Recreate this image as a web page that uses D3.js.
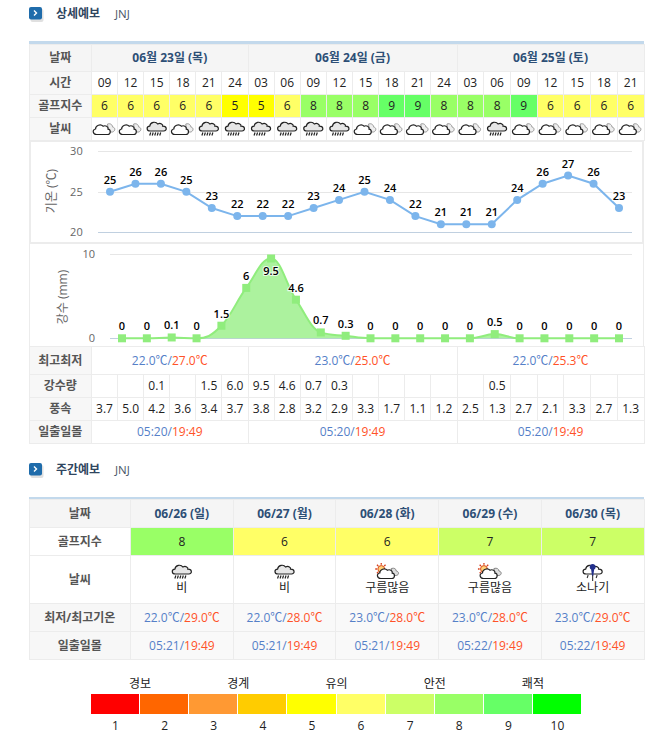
<!DOCTYPE html>
<html lang="ko">
<head>
<meta charset="utf-8">
<title>JNJ 날씨</title>
<script src="https://cdn.jsdelivr.net/npm/d3@7"></script>
<style>
  html, body { margin: 0; padding: 0; background: #fff; overflow: hidden; }
  svg { display: block; font-family: "Open Sans", "Noto Sans CJK KR", sans-serif; }
  .grid { shape-rendering: crispEdges; }
  .axis .domain { display: none; }
  .axis text { font-size: 11px; fill: #666; font-family: "Open Sans", sans-serif; }
  .lab { font-size: 12px; font-weight: 700; fill: #555; }
  .head { font-size: 12px; font-weight: 700; fill: #2d4f76; }
  .val { font-size: 12px; fill: #222; }
  .dl { font-size: 11px; font-weight: 600; fill: #000; stroke: #fff; stroke-width: 2.2px; stroke-opacity: .75; paint-order: stroke; }
</style>
</head>
<body>
<div id="chart"></div>
<script>
/* ── 상세예보 (3 hourly) ───────────────────────── */
const dayLabels  = ['06월 23일 (목)', '06월 24일 (금)', '06월 25일 (토)'];
const dayCols    = [6, 8, 7];
const times      = ['09','12','15','18','21','24','03','06','09','12','15','18','21','24','03','06','09','12','15','18','21'];
const golfIndex  = [6,6,6,6,6,5,5,6,8,8,8,9,9,8,8,8,9,6,6,6,6];
const weather    = ['c','c','r','c','r','r','r','r','r','r','c','c','c','c','c','r','c','c','c','c','c'];
const temps      = [25,26,26,25,23,22,22,22,23,24,25,24,22,21,21,21,24,26,27,26,23];
const rain       = [0,0,0.1,0,1.5,6,9.5,4.6,0.7,0.3,0,0,0,0,0,0.5,0,0,0,0,0];
const wind       = [3.7,5.0,4.2,3.6,3.4,3.7,3.8,2.8,3.2,2.9,3.3,1.7,1.1,1.2,2.5,1.3,2.7,2.1,3.3,2.7,1.3];
const dayMin     = ['22.0','23.0','22.0'];
const dayMax     = ['27.0','25.0','25.3'];
const daySunrise = ['05:20','05:20','05:20'];
const daySunset  = ['19:49','19:49','19:49'];

/* ── 주간예보 ──────────────────────────────────── */
const weekDays    = ['06/26 (일)','06/27 (월)','06/28 (화)','06/29 (수)','06/30 (목)'];
const weekGolf    = [8,6,6,7,7];
const weekWxCode  = ['r','r','s','s','t'];
const weekWxText  = ['비','비','구름많음','구름많음','소나기'];
const weekMin     = ['22.0','22.0','23.0','23.0','23.0'];
const weekMax     = ['29.0','28.0','28.0','28.0','29.0'];
const weekSunrise = ['05:21','05:21','05:21','05:22','05:22'];
const weekSunset  = ['19:49','19:49','19:49','19:49','19:49'];

/* ── 범례 ──────────────────────────────────────── */
const legendLevels = [1,2,3,4,5,6,7,8,9,10];
const legendColors = ['#ff0000','#ff6600','#ff9933','#ffcc00','#ffff00','#ffff66','#ccff66','#99ff66','#66ff66','#00ff00'];
const legendGroups = ['경보','경계','유의','안전','쾌적'];

const W = 671, H = 738;
const LINE = '#ececec', TOPLINE = '#c3d9ec', BLUE = '#5580c8', RED = '#ff5228';
const golfColor = d3.scaleOrdinal().domain(legendLevels).range(legendColors);

const svg = d3.select('#chart').append('svg').attr('width', W).attr('height', H);
const defs = svg.append('defs');

// ── weather glyphs ───────────────────────────────
const CLOUD = 'M-6.5 5.5 C-10.5 5.5 -11 0.5 -7.5 0 C-7.5 -3.5 -2.5 -5.5 0 -2.8 C2.5 -4 5.5 -2.5 5 0.2 C8 0.5 8 5.5 4.5 5.5 Z';
const RAINCLOUD = 'M-6.5 2 C-10.5 2 -10.5 -2.5 -7 -2.8 C-6.5 -7 -1 -8 1 -5 C4 -6.5 6.5 -4.5 6 -2.8 C10.5 -3 10.5 2 7 2 Z';

const symC = defs.append('g').attr('id', 'wx-c');
symC.append('path').attr('d', 'M3 -5 C6 -6 8 -4 8 -2 C11 -1.5 11 2 8 3 L4 3 Z')
  .attr('fill', '#eee').attr('stroke', '#999').attr('stroke-width', 1);
symC.append('path').attr('d', CLOUD).attr('transform', 'translate(-1.5,0)')
  .attr('fill', '#fff').attr('stroke', '#222').attr('stroke-width', 1.2);

const symR = defs.append('g').attr('id', 'wx-r');
symR.append('path').attr('d', RAINCLOUD).attr('fill', '#e6e6e6').attr('stroke', '#222').attr('stroke-width', 1.2);
symR.append('path').attr('d', 'M-6 3.5 L-7 6.5 M-3.5 3.5 L-4.5 6.5 M-1 3.5 L-2 6.5 M1.5 3.5 L0.5 6.5 M4 3.5 L3 6.5')
  .attr('stroke', '#222').attr('stroke-width', 1.2).attr('fill', 'none');

const symS = defs.append('g').attr('id', 'wx-s');
symS.append('circle').attr('cx', -6).attr('cy', -3).attr('r', 3.4).attr('fill', '#ffd27a').attr('stroke', '#d84a1c').attr('stroke-width', 1);
symS.append('path').attr('d', 'M-6 -9 V-7.3 M-12 -3 H-10.3 M-10.3 -7.3 L-9 -6 M-1.7 -7.3 L-3 -6 M-10.3 1.3 L-9 0')
  .attr('stroke', '#d8401c').attr('stroke-width', 1.3).attr('fill', 'none');
symS.append('path').attr('d', 'M4 -3.5 C7 -4.5 9 -3 9 -1 C12 -0.5 12 3 9 3.5 L5 3.5 Z').attr('fill', '#ddd').attr('stroke', '#888');
symS.append('path').attr('d', CLOUD).attr('transform', 'translate(0,1)').attr('fill', '#fff').attr('stroke', '#222').attr('stroke-width', 1.2);

const symT = defs.append('g').attr('id', 'wx-t');
symT.append('path').attr('d', RAINCLOUD).attr('fill', '#fff').attr('stroke', '#222').attr('stroke-width', 1.2);
symT.append('path').attr('d', 'M-1.5 -4.5 A3 3 0 1 1 1.5 -4.5 L0.6 2 L-0.6 2 Z').attr('transform', 'translate(0,2)').attr('fill', '#22308c');
symT.append('path').attr('d', 'M0 3.5 V9 M-4.5 3 L-5.5 6 M4.5 3 L3.5 6').attr('stroke', '#333').attr('stroke-width', 1.1).attr('fill', 'none');

// ── table helpers ────────────────────────────────
const grid = svg.append('g').attr('class', 'grid');
const txt  = svg.append('g');
const crisp = v => Math.round(v - 0.5) + 0.5;

function cell(x0, x1, y0, y1, fill) {
  grid.append('rect')
    .attr('x', crisp(x0)).attr('y', crisp(y0))
    .attr('width', crisp(x1) - crisp(x0)).attr('height', crisp(y1) - crisp(y0))
    .attr('fill', fill).attr('stroke', LINE);
}
function label(x, y, s, cls) {
  return txt.append('text').attr('class', cls).attr('x', x).attr('y', y)
    .attr('dy', '.36em').attr('text-anchor', 'middle').text(s);
}
function pair(x, y, a, b, unit) {
  const t = label(x, y, null, 'val');
  t.append('tspan').style('fill', BLUE).text(`${a}${unit}/`);
  t.append('tspan').style('fill', RED).text(`${b}${unit}`);
}
function sectionTitle(y, s) {
  const g = svg.append('g');
  g.append('rect').attr('x', 30.5).attr('y', y - 5).attr('width', 13).attr('height', 13).attr('rx', 2)
    .attr('fill', '#ccc').attr('opacity', .6);
  g.append('rect').attr('x', 29).attr('y', y - 7).attr('width', 13).attr('height', 12.5).attr('rx', 2)
    .attr('fill', '#1f6cab');
  g.append('path').attr('d', `M34 ${y - 3.5} l2.5 2.5 l-2.5 2.5`).attr('fill', 'none')
    .attr('stroke', '#fff').attr('stroke-width', 1.4);
  g.append('text').attr('x', 56).attr('y', y).attr('dy', '.36em').attr('font-size', 12)
    .attr('font-weight', 700).attr('fill', '#2f4560').text(s);
  g.append('text').attr('x', 115).attr('y', y).attr('dy', '.36em').attr('font-size', 11.5)
    .attr('fill', '#4a5568').text('JNJ');
}

// ── 상세예보 table ───────────────────────────────
const LEFT = 29, RIGHT = 644, LABEL_R = 91.5;
const colX = d3.scaleLinear().domain([0, 6, 14, 21]).range([LABEL_R, 248, 457, RIGHT]);
const colC = i => (colX(i) + colX(i + 1)) / 2;
const dayEdges = d3.cumsum([0, ...dayCols]);

sectionTitle(14, '상세예보');
grid.append('rect').attr('x', LEFT).attr('y', 41).attr('width', RIGHT - LEFT).attr('height', 3).attr('fill', TOPLINE);

function rowLabel(y0, y1, s, x1 = LABEL_R, fill = '#f7f7f7') {
  cell(LEFT, x1, y0, y1, fill);
  label((LEFT + x1) / 2, (y0 + y1) / 2, s, 'lab');
}

// date row
rowLabel(44, 71.5, '날짜', LABEL_R, '#f5f5f5');
dayLabels.forEach((d, i) => {
  cell(colX(dayEdges[i]), colX(dayEdges[i + 1]), 44, 71.5, '#f5f5f5');
  label((colX(dayEdges[i]) + colX(dayEdges[i + 1])) / 2, 57.5, d, 'head');
});

// hourly rows
rowLabel(71.5, 94.5, '시간');
rowLabel(94.5, 117.5, '골프지수');
rowLabel(117.5, 140.5, '날씨');
times.forEach((t, i) => {
  cell(colX(i), colX(i + 1), 71.5, 94.5, '#fff');
  label(colC(i), 83, t, 'val');
  cell(colX(i), colX(i + 1), 94.5, 117.5, golfColor(golfIndex[i]));
  label(colC(i), 106, golfIndex[i], 'val');
  cell(colX(i), colX(i + 1), 117.5, 140.5, '#fff');
  svg.append('use').attr('href', `#wx-${weather[i]}`).attr('x', colC(i)).attr('y', 129);
});

// ── chart panels ─────────────────────────────────
grid.append('rect').attr('x', 29).attr('y', 140).attr('width', 615).attr('height', 207).attr('fill', LINE);
grid.append('rect').attr('x', 31).attr('y', 142).attr('width', 611).attr('height', 100).attr('fill', '#fff');
grid.append('rect').attr('x', 30).attr('y', 244).attr('width', 613).attr('height', 102).attr('fill', '#fff');

const plot = svg.append('g');
const idx = times.map((_, i) => i);
const GRID_R = 631.7;

// temperature
const tempX = d3.scalePoint().domain(idx).range([110, 619]);
const tempY = d3.scaleLinear().domain([20, 30]).range([232.3, 151.3]);
const TEMP_L = 97.7;
const tempAxis = plot.append('g').attr('class', 'axis').attr('transform', `translate(${TEMP_L},0)`)
  .call(d3.axisLeft(tempY).tickValues([20, 25, 30]).tickSize(-(GRID_R - TEMP_L)).tickPadding(15));
tempAxis.selectAll('.tick line').attr('x1', 0).attr('x2', GRID_R - TEMP_L)
  .attr('stroke', d => d === 20 ? '#c0d0e0' : '#e6e6e6').attr('class', 'grid');

plot.append('text').attr('transform', 'translate(52,191) rotate(-90)').attr('text-anchor', 'middle')
  .attr('dy', '.36em').attr('font-size', 12).attr('fill', '#666').text('기온 (℃)');

plot.append('path').datum(temps)
  .attr('d', d3.line().x((_, i) => tempX(i)).y(d => tempY(d)))
  .attr('fill', 'none').attr('stroke', '#7cb5ec').attr('stroke-width', 2);
plot.selectAll('.tdot').data(temps).join('circle').attr('class', 'tdot')
  .attr('cx', (_, i) => tempX(i)).attr('cy', d => tempY(d)).attr('r', 4).attr('fill', '#7cb5ec');
plot.selectAll('.tlab').data(temps).join('text').attr('class', 'dl tlab')
  .attr('x', (_, i) => tempX(i)).attr('y', d => tempY(d) - 12).attr('dy', '.36em')
  .attr('text-anchor', 'middle').text(d => d);

// rain
const rainX = d3.scalePoint().domain(idx).range([122, 619]);
const rainY = d3.scaleLinear().domain([0, 10]).range([338.3, 254.3]);
const RAIN_L = 110;
const rainAxis = plot.append('g').attr('class', 'axis').attr('transform', `translate(${RAIN_L},0)`)
  .call(d3.axisLeft(rainY).tickValues([0, 10]).tickSize(-(GRID_R - RAIN_L)).tickPadding(15));
rainAxis.selectAll('.tick line').attr('x1', 0).attr('x2', GRID_R - RAIN_L)
  .attr('stroke', d => d === 0 ? '#c0d0e0' : '#e6e6e6').attr('class', 'grid');

plot.append('text').attr('transform', 'translate(63,297) rotate(-90)').attr('text-anchor', 'middle')
  .attr('dy', '.36em').attr('font-size', 12).attr('fill', '#666').text('강수 (mm)');

// spline that overshoots a little at a peak but stays flat on the zero runs
function spline(pts) {
  const p = d3.path();
  const s = 1.5, den = 2.5;
  const ctrl = i => {
    const [x, y] = pts[i];
    if (i === 0 || i === pts.length - 1) return { lx: x, ly: y, rx: x, ry: y };
    const [ax, ay] = pts[i - 1], [bx, by] = pts[i + 1];
    let lx = (s * x + ax) / den, ly = (s * y + ay) / den;
    let rx = (s * x + bx) / den, ry = (s * y + by) / den;
    const c = ((ry - ly) * (rx - x)) / (rx - lx) + y - ry;
    ly += c; ry += c;
    if (ly > ay && ly > y) { ly = Math.max(ay, y); ry = 2 * y - ly; }
    else if (ly < ay && ly < y) { ly = Math.min(ay, y); ry = 2 * y - ly; }
    if (ry > by && ry > y) { ry = Math.max(by, y); ly = 2 * y - ry; }
    else if (ry < by && ry < y) { ry = Math.min(by, y); ly = 2 * y - ry; }
    return { lx, ly, rx, ry };
  };
  p.moveTo(pts[0][0], pts[0][1]);
  for (let i = 1; i < pts.length; i++) {
    const a = ctrl(i - 1), b = ctrl(i);
    p.bezierCurveTo(a.rx, a.ry, b.lx, b.ly, pts[i][0], pts[i][1]);
  }
  return p.toString();
}
const rainPts = rain.map((d, i) => [rainX(i), rainY(d)]);
const rainLine = spline(rainPts);
plot.append('path')
  .attr('d', `${rainLine} L${rainX(20)},${rainY(0)} L${rainX(0)},${rainY(0)} Z`)
  .attr('fill', '#90ed7d').attr('fill-opacity', .75);
plot.append('path').attr('d', rainLine).attr('fill', 'none').attr('stroke', '#90ed7d').attr('stroke-width', 2);
plot.selectAll('.rdot').data(rain).join('rect').attr('class', 'rdot')
  .attr('x', (_, i) => rainX(i) - 4).attr('y', d => rainY(d) - 4)
  .attr('width', 8).attr('height', 8).attr('fill', '#90ed7d');
// a label that would leave the panel goes under its marker instead
plot.selectAll('.rlab').data(rain).join('text').attr('class', 'dl rlab')
  .attr('x', (_, i) => rainX(i))
  .attr('y', d => rainY(d) - 18 < 244 ? rainY(d) + 12.5 : rainY(d) - 12)
  .attr('dy', '.36em').attr('text-anchor', 'middle').text(d => d);

// rows under the charts
rowLabel(346.5, 374.5, '최고최저');
rowLabel(374.5, 397.5, '강수량');
rowLabel(397.5, 420.5, '풍속');
rowLabel(420.5, 443.5, '일출일몰');
dayLabels.forEach((_, i) => {
  const x0 = colX(dayEdges[i]), x1 = colX(dayEdges[i + 1]);
  cell(x0, x1, 346.5, 374.5, '#fff');
  pair((x0 + x1) / 2, 360.5, dayMin[i], dayMax[i], '℃');
  cell(x0, x1, 420.5, 443.5, '#fff');
  pair((x0 + x1) / 2, 432, daySunrise[i], daySunset[i], '');
});
times.forEach((_, i) => {
  cell(colX(i), colX(i + 1), 374.5, 397.5, '#fff');
  if (rain[i] > 0) label(colC(i), 386, rain[i].toFixed(1), 'val');
  cell(colX(i), colX(i + 1), 397.5, 420.5, '#fff');
  label(colC(i), 409, wind[i].toFixed(1), 'val');
});

// ── 주간예보 table ───────────────────────────────
sectionTitle(470, '주간예보');
grid.append('rect').attr('x', LEFT).attr('y', 497).attr('width', RIGHT - LEFT).attr('height', 2.5).attr('fill', TOPLINE);

const WEEK_L = 130.5;
const weekX = d3.scaleLinear().domain([0, 5]).range([WEEK_L, RIGHT]);
const weekC = i => (weekX(i) + weekX(i + 1)) / 2;

rowLabel(499.5, 527.5, '날짜', WEEK_L, '#f5f5f5');
rowLabel(527.5, 555.5, '골프지수', WEEK_L, '#fff');
rowLabel(555.5, 603.5, '날씨', WEEK_L, '#fff');
rowLabel(603.5, 631.5, '최저/최고기온', WEEK_L);
rowLabel(631.5, 659.5, '일출일몰', WEEK_L);
weekDays.forEach((d, i) => {
  const x0 = weekX(i), x1 = weekX(i + 1), c = weekC(i);
  cell(x0, x1, 499.5, 527.5, '#f5f5f5');
  label(c, 513.5, d, 'head');
  cell(x0, x1, 527.5, 555.5, golfColor(weekGolf[i]));
  label(c, 541.5, weekGolf[i], 'val');
  cell(x0, x1, 555.5, 603.5, '#fff');
  svg.append('use').attr('href', `#wx-${weekWxCode[i]}`).attr('x', c).attr('y', 572);
  label(c, 588, weekWxText[i], 'val');
  cell(x0, x1, 603.5, 631.5, '#f9f9f9');
  pair(c, 617.5, weekMin[i], weekMax[i], '℃');
  cell(x0, x1, 631.5, 659.5, '#f9f9f9');
  pair(c, 645.5, weekSunrise[i], weekSunset[i], '');
});

// ── legend ───────────────────────────────────────
const legendX = d3.scaleBand().domain(legendLevels).range([91, 582]);
svg.append('g').selectAll('rect').data(legendLevels).join('rect')
  .attr('x', d => legendX(d)).attr('y', 694)
  .attr('width', legendX.bandwidth() - 1).attr('height', 20)
  .attr('fill', d => golfColor(d)).attr('class', 'grid');
legendLevels.forEach(d => label(legendX(d) + legendX.bandwidth() / 2, 725.5, d, 'val'));
legendGroups.forEach((s, i) => {
  const k = legendLevels[i * 2];
  label(legendX(k) + legendX.bandwidth(), 684, s, 'val');
});
</script>
</body>
</html>
